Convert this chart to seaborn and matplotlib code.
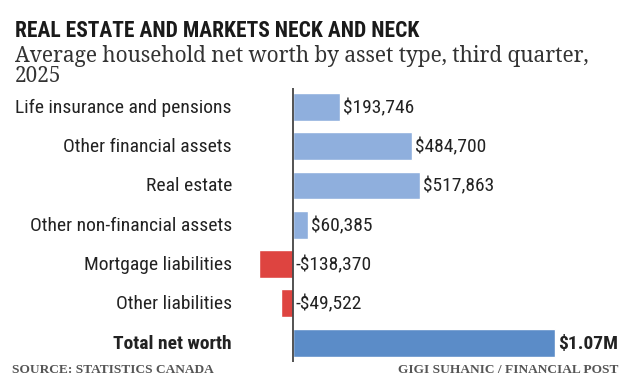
import seaborn as sns
import matplotlib.pyplot as plt

# ---- data ----
categories = ['Life insurance and pensions', 'Other financial assets', 'Real estate',
              'Other non-financial assets', 'Mortgage liabilities', 'Other liabilities',
              'Total net worth']
values = [193746, 484700, 517863, 60385, -138370, -49522, 1070000]
value_labels = ['$193,746', '$484,700', '$517,863', '$60,385', '-$138,370', '-$49,522', '$1.07M']
bar_colors = ['#8fafdd', '#8fafdd', '#8fafdd', '#8fafdd', '#de4440', '#de4440', '#5b8cc8']

sns.set_style('white')
sans = ['Roboto Condensed', 'Roboto', 'DejaVu Sans']
serif = ['Noto Serif', 'Liberation Serif', 'DejaVu Serif']
plt.rcParams['font.family'] = sans

W, H = 640, 391
fig = plt.figure(figsize=(6.4, 3.91), dpi=100)
ax = fig.add_axes([250 / W, 1 - 362 / H, 390 / W, 274 / H])

sns.barplot(x=values, y=categories, hue=categories, palette=bar_colors,
            legend=False, orient='h', width=0.71, saturation=1, ax=ax)

ax.set_xlim(-175500, 1416300)
ax.set_ylim(6.49, -0.48)
ax.axvline(0, color='#444444', lw=1.3)
ax.set_xticks([])
ax.set_yticks([])
ax.set_xlabel('')
ax.set_ylabel('')
for s in ax.spines.values():
    s.set_visible(False)

# category labels on the left, values at the bar ends
for i, (cat, v, lab) in enumerate(zip(categories, values, value_labels)):
    bold = cat == 'Total net worth'
    ax.annotate(cat, xy=(0, i), xytext=(-61, -1), textcoords='offset pixels',
                ha='right', va='center', fontsize=14, color='#222222',
                fontweight='bold' if bold else 'normal')
    ax.annotate(lab, xy=(max(v, 0), i), xytext=(3, -1), textcoords='offset pixels',
                ha='left', va='center', fontsize=14, color='#222222',
                fontweight='bold' if bold else 'normal')

# titles
fig.text(15 / W, 1 - 37 / H, 'REAL ESTATE AND MARKETS NECK AND NECK',
         ha='left', va='baseline', fontsize=15.5, fontweight='bold', color='#1a1a1a')
fig.text(15 / W, 1 - 62 / H, 'Average household net worth by asset type, third quarter,',
         ha='left', va='baseline', fontsize=15, color='#333333', family=serif)
fig.text(15 / W, 1 - 82 / H, '2025',
         ha='left', va='baseline', fontsize=15, color='#333333', family=serif)

# footer
foot = ['Liberation Serif', 'DejaVu Serif']
fig.text(12 / W, 1 - 370 / H, 'SOURCE: STATISTICS CANADA', ha='left', va='center',
         fontsize=9.6, color='#555555', fontweight='bold', family=foot)
fig.text(618 / W, 1 - 370 / H, 'GIGI SUHANIC / FINANCIAL POST', ha='right', va='center',
         fontsize=9.6, color='#555555', fontweight='bold', family=foot)

fig.savefig('out.png', dpi=100)
